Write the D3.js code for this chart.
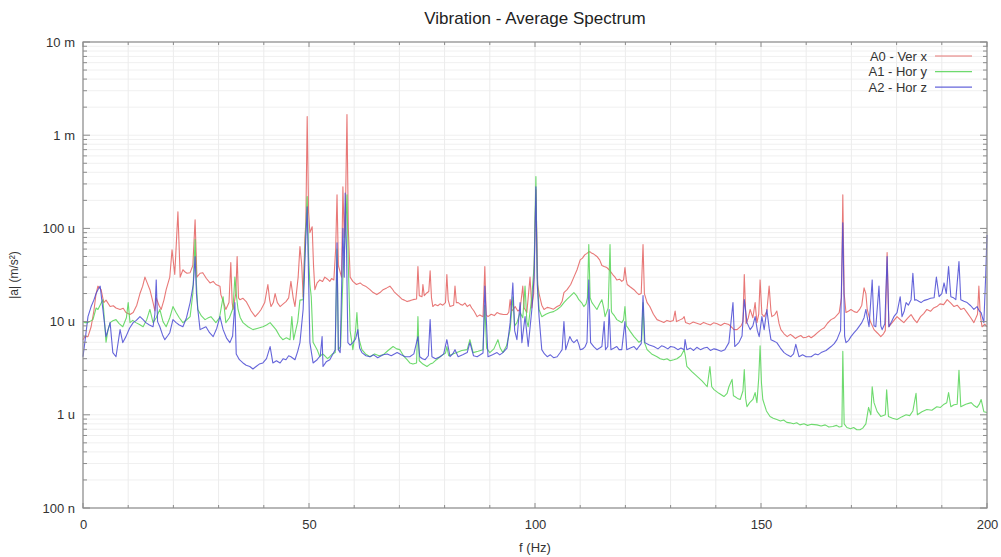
<!DOCTYPE html>
<html>
<head>
<meta charset="utf-8">
<script src="https://cdn.jsdelivr.net/npm/d3@7/dist/d3.min.js"></script>
<style>
  html, body { margin: 0; padding: 0; background: #fff; }
  svg { display: block; font-family: "Liberation Sans", Arial, sans-serif; }
</style>
</head>
<body>
<svg id="chart" width="1001" height="557"></svg>
<script>
// Spectrum magnitudes, in micro m/s^2, as [frequency Hz, |a|] pairs
const seriesNames = ["A0 - Ver x", "A1 - Hor y", "A2 - Hor z"];
const seriesColors = ["#e4605f", "#55d455", "#4a4ad4"];

const verX = [[0,6.4],[0.4,6.9],[1.1,6.9],[1.8,8.8],[2.4,13],[2.9,20],[3.3,24],[4.0,22],[4.6,16],[5.1,17],[6.0,14.5],[6.7,14.8],[7.3,14],[8.2,13.5],[8.9,13.9],[9.5,12.5],[10.4,11.9],[11.1,12.5],[11.9,15],[12.6,20],[13.2,24],[13.7,30],[14.2,26],[14.8,22],[15.5,16],[15.9,13],[16.2,18],[16.8,15],[17.3,13.5],[17.9,17],[18.4,22],[19.2,30],[19.7,59],[20.3,32],[21.0,151],[21.5,30],[22.1,36],[22.6,34],[23.0,33],[23.7,33.5],[24.3,40],[24.8,124],[25.2,30],[25.9,33],[26.5,33.5],[27.3,29],[28.1,26],[28.8,27],[29.4,25],[30.3,24],[30.5,19.5],[31.1,16],[31.6,13.5],[32.3,16],[32.7,43],[33.0,16],[33.2,13.5],[33.8,20],[34.1,50],[34.4,18],[34.7,17.2],[35.4,17.8],[36.1,16.4],[36.7,14.5],[37.2,13],[38.1,11.3],[38.8,12.3],[39.4,13.5],[40.2,16],[40.9,25],[41.3,17],[41.6,14.5],[42.1,16],[42.5,20],[43.0,16],[43.6,14.5],[44.3,15.5],[44.9,16.4],[45.5,18],[46.0,27],[46.5,18],[46.9,14.5],[47.6,30],[48.0,64],[48.4,40],[48.7,18.5],[49.1,80],[49.3,115],[49.6,1585],[49.9,150],[50.2,90],[50.7,104],[51.0,40],[51.3,22],[51.8,26],[52.4,28],[53.0,27],[53.5,30],[54.1,28.5],[54.6,27],[55.0,29],[55.5,28],[55.9,60],[56.2,230],[56.5,40],[57.2,30],[57.5,280],[57.8,80],[58.1,200],[58.4,1663],[58.7,100],[59.1,30],[59.7,27],[60.5,25],[61.3,26],[62.0,24.5],[62.5,24],[63.0,23],[63.5,22],[64.2,20.5],[65.0,19.5],[65.7,20.5],[66.4,22],[67.2,23],[67.9,24],[68.4,22.5],[68.8,21],[69.5,19.5],[70.0,18.5],[70.5,17.5],[71.1,17],[71.7,16.4],[72.4,16.8],[73.0,17.2],[73.8,17.5],[74.1,39],[74.4,19],[75.0,18.5],[75.2,25],[75.5,19],[75.9,20],[76.5,21],[76.8,35],[77.1,18],[77.4,14.5],[77.9,15.3],[78.5,14.8],[79.0,15.5],[79.6,15],[80.2,16],[80.5,32],[80.8,17],[81.2,14.5],[82.0,15],[82.3,24],[82.6,16],[83.0,16],[83.5,15.3],[84.0,15],[84.5,15.8],[85.0,14.5],[85.6,15.2],[86.0,14],[86.5,13],[87.2,11.3],[87.8,11.8],[88.5,11.3],[88.9,39],[89.2,11.8],[89.6,11.3],[90.3,12],[91.0,11.6],[91.6,12.5],[92.3,12.1],[93.0,11.9],[93.8,11.9],[94.2,12.6],[94.5,17.2],[94.8,13],[95.2,13.5],[95.6,14.5],[96.2,13],[96.7,13.5],[97.3,24],[97.6,14],[98.2,12.5],[98.9,30],[99.3,14],[99.7,20],[100.2,260],[100.6,25],[100.9,20],[101.5,15],[102.0,13.5],[102.7,14.2],[103.3,14],[104.1,13.6],[104.9,14.5],[105.5,15],[106.0,16.5],[106.4,20.5],[107.1,22],[107.9,25],[108.6,30],[109.3,36],[110.0,46],[110.5,48],[111.0,52],[111.5,54],[111.9,56],[112.2,56],[112.6,54],[113.0,53],[113.7,50],[114.3,46],[114.8,40],[115.3,39],[115.9,38],[116.4,36],[116.8,34],[117.2,32],[117.7,30],[118.1,28],[118.7,28.5],[119.2,27],[119.6,28],[119.9,38],[120.2,28],[120.4,25],[121.1,23.5],[121.9,22],[122.5,20.5],[123.0,19.5],[123.5,20],[123.9,67],[124.2,20],[124.8,16],[125.4,14.5],[126.2,12],[127.0,10.5],[127.6,10.2],[128.5,9.8],[129.2,10.3],[129.9,10],[130.6,10.3],[131.0,13],[131.3,10],[132.2,10.5],[132.7,10.8],[133.0,11.3],[133.3,9.8],[134.2,9.4],[135.0,9.9],[135.8,9.6],[136.6,9.3],[137.3,9.8],[138.0,9.5],[138.8,9.2],[139.5,9.7],[140.3,9.5],[141.1,9.1],[141.9,9.6],[142.9,9.3],[143.5,8.7],[144.0,8.2],[144.7,8.2],[145.6,9],[146.0,10],[146.3,32],[146.7,9.5],[147.2,11],[147.6,13.5],[148.2,11],[148.7,16],[149.1,9.75],[149.5,12],[149.8,28],[150.2,12],[150.7,11.3],[151.3,13],[151.8,24],[152.2,13],[152.4,11.3],[153.0,11.8],[153.5,13],[154.0,9.5],[154.4,8.2],[155.1,7.4],[155.8,6.9],[156.5,7.3],[157.0,7],[157.6,6.6],[158.0,6.8],[158.8,7.1],[159.4,6.7],[160.0,6.8],[160.6,7],[161.1,6.7],[161.8,7.1],[162.5,7.6],[163.3,8.2],[164.0,8.6],[164.7,9.6],[165.5,10.5],[166.3,11],[167.3,12.5],[167.8,18],[168.1,230],[168.4,20],[168.8,12.5],[169.4,13],[169.9,13.5],[170.6,12.8],[171.2,12.5],[171.8,13.5],[172.3,15],[172.8,23],[173.2,20],[173.5,13.5],[174.2,10],[175.0,8.2],[175.8,7.5],[176.5,6.9],[177.1,7.4],[177.5,8],[177.9,55],[178.3,8.8],[179.2,10],[180.1,11.3],[180.9,10.4],[181.6,9.75],[182.4,10.8],[183.2,11.9],[183.9,10.5],[184.5,9.75],[185.3,11.3],[186.0,12.2],[186.7,13.5],[187.5,12.9],[188.2,14],[188.9,14.5],[189.6,15.5],[190.4,15.2],[191.2,17.2],[192.0,15.8],[192.7,14.5],[193.4,15],[194.2,13.5],[194.9,13.9],[195.6,12.5],[196.4,11],[197.1,9.75],[197.9,12],[198.2,24],[198.5,12],[198.9,8.8],[199.5,9.4],[200,8.8]];

const horY = [[0,10],[0.4,9.75],[1.1,9.75],[2.2,10.5],[2.9,14],[3.3,13.5],[4.4,17.2],[5.1,6],[5.5,8],[6.0,9.75],[6.6,10.2],[7.3,10.5],[8.0,9.5],[8.8,8.8],[9.6,11],[10.0,16],[10.4,9.75],[11.0,10.3],[11.7,9.75],[12.5,9.3],[13.3,8.8],[14.1,10.5],[14.8,13.5],[15.5,9.75],[16.2,11],[17.0,13.5],[17.7,10],[18.4,8.8],[19.2,11],[19.9,14.5],[20.6,12.5],[21.3,11],[22.1,9.75],[22.9,10.4],[23.7,11.3],[24.3,20],[24.8,76],[25.1,25],[25.4,13.5],[26.2,11.5],[27.0,10.5],[27.6,10.9],[28.3,11.3],[29.4,9.75],[30.2,11],[31.0,18.5],[31.6,9.75],[32.4,11],[33.2,14],[33.6,30],[34.0,18],[34.3,13.5],[34.8,11],[35.4,9.75],[36.5,8.8],[37.6,8.2],[38.7,8.5],[39.8,8.8],[40.6,9.2],[41.4,9.75],[42.0,9],[42.7,8.2],[43.5,7],[44.2,6.4],[45.0,6.7],[45.8,6.4],[46.2,11.3],[46.6,6.4],[47.5,10],[48.0,17],[48.7,17.2],[49.1,60],[49.6,220],[49.9,50],[50.2,25],[50.5,18.5],[50.9,6],[51.8,5],[52.4,4.2],[53.0,4.5],[53.5,4.3],[54.1,4.0],[54.6,4.2],[55.2,4.5],[55.8,4.65],[56.2,60],[56.5,5],[57.0,5.4],[57.5,30],[58.0,80],[58.4,230],[58.7,40],[59.1,8],[59.7,5],[60.3,8],[60.6,12.5],[60.9,7],[61.7,5],[62.5,4.5],[63.5,4.2],[64.5,4.5],[65.5,4.3],[66.4,4.4],[67.5,4.9],[68.6,5.4],[69.4,5.1],[70.1,5],[70.9,4.3],[71.7,3.9],[72.3,3.6],[73.0,3.5],[73.8,3.6],[74.1,11.3],[74.4,3.8],[75.2,3.5],[76.1,3.3],[76.8,3.5],[77.4,3.6],[78.2,3.9],[79.0,4.2],[79.6,4.4],[80.2,4.6],[80.5,5.4],[80.9,4.3],[81.8,4.5],[82.7,4.65],[83.8,4.9],[85.0,5],[85.6,6.4],[86.3,4.65],[87.4,4.8],[88.5,5],[88.9,15],[89.3,5.2],[90.0,4.65],[90.9,5.1],[91.8,6.4],[92.3,5.2],[92.9,4.65],[93.7,5.5],[94.5,8.2],[95.1,18.5],[95.5,9],[96.0,9.75],[96.7,12.5],[97.3,11],[97.8,24],[98.2,10],[98.5,8.8],[99.3,18.5],[99.8,40],[100.2,360],[100.5,30],[100.9,13.5],[101.5,11.3],[102.4,12],[103.3,12.5],[104.1,12.8],[104.9,13.5],[105.7,14.5],[106.4,16],[107.0,17.2],[107.7,18.5],[108.6,20.5],[109.2,19],[109.7,17.2],[110.3,16],[110.8,14.5],[111.3,15.5],[111.6,18],[111.9,67],[112.2,18],[112.6,16],[113.1,14.8],[113.7,13.5],[114.3,15.5],[114.8,17.2],[115.2,14],[115.5,11.3],[116.2,14],[116.6,67],[116.9,13],[117.0,12.5],[117.6,11.5],[118.1,10.5],[118.7,10.1],[119.2,9.75],[119.6,10.5],[119.9,14.5],[120.2,9],[120.4,8.8],[121.1,7.8],[121.9,6.9],[122.5,6.4],[123.0,6],[123.6,6.3],[123.9,16],[124.2,6],[124.8,5],[125.8,4.5],[127.0,4.2],[127.7,4.0],[128.5,3.9],[129.2,4.0],[129.9,3.8],[130.7,3.9],[131.4,4],[132.3,4.3],[133.0,5],[133.3,4.2],[133.6,3.3],[134.7,2.9],[135.8,2.6],[137.0,2.3],[138.1,2.0],[138.7,3.3],[139.1,2.0],[139.6,1.86],[140.7,1.7],[141.8,1.57],[142.5,1.7],[142.9,2.0],[143.6,2.4],[143.9,1.6],[144.2,1.57],[144.8,1.5],[145.4,1.46],[146.0,1.8],[146.3,3.05],[146.6,1.5],[146.9,1.22],[147.5,1.35],[148.2,1.46],[148.7,1.73],[149.1,1.35],[149.5,2.5],[149.8,5.5],[150.1,2.2],[150.4,1.46],[151.2,1.1],[152.0,0.96],[152.7,0.92],[153.5,0.89],[154.3,0.86],[155.0,0.88],[155.7,0.83],[156.4,0.82],[157.2,0.8],[157.9,0.82],[158.6,0.78],[159.5,0.8],[160.3,0.77],[161.2,0.79],[162.4,0.78],[163.3,0.76],[164.2,0.78],[165.0,0.74],[165.9,0.75],[166.7,0.77],[167.3,0.74],[167.9,0.75],[168.1,4.8],[168.4,0.8],[169.0,0.73],[169.8,0.71],[170.5,0.73],[171.2,0.69],[171.9,0.69],[172.5,0.72],[173.2,0.8],[173.8,1.2],[174.3,1.0],[174.6,2.0],[175.0,1.35],[175.7,1.08],[176.5,0.96],[177.5,1.0],[177.8,1.86],[178.2,0.96],[179.1,0.92],[180.1,0.89],[181.1,0.95],[182.1,1.0],[182.9,0.98],[183.6,1.1],[184.3,1.7],[184.6,1.0],[185.6,1.08],[186.7,1.14],[187.8,1.12],[188.9,1.22],[189.7,1.2],[190.5,1.3],[191.1,1.35],[191.5,1.73],[192.0,1.22],[192.7,1.28],[193.4,1.3],[193.8,3.0],[194.2,1.22],[195.3,1.3],[196.5,1.35],[197.2,1.25],[197.8,1.2],[198.3,1.3],[198.7,1.46],[199.3,1.08],[200,1.06]];

const horZ = [[0,4.2],[0.4,5.95],[1.1,11.3],[1.8,14.5],[2.4,17],[2.9,20],[3.3,22],[3.8,24],[4.4,13.5],[5.1,6.9],[6.0,9.75],[6.6,4.65],[7.3,4.2],[8.2,8.2],[8.8,5.95],[9.5,6.9],[10.3,8.5],[11.1,9.75],[11.8,10.3],[12.6,11.3],[13.3,10.5],[13.9,9.75],[14.7,9.2],[15.5,8.8],[15.9,12],[16.2,28],[16.5,10],[17.0,8.8],[17.6,7.2],[18.1,6.4],[18.7,7],[19.2,7.6],[19.9,10.5],[20.6,9.75],[21.3,9.2],[22.1,8.8],[22.9,11],[23.7,16],[24.4,25],[24.8,50],[25.1,20],[25.4,13.5],[25.9,8.2],[26.5,8.5],[27.2,8.8],[28.0,7.6],[28.8,6.9],[29.6,8.5],[30.3,11.3],[31.0,8.2],[31.8,6.6],[32.5,5.95],[33.1,7],[33.6,16],[33.9,4.5],[34.6,3.9],[35.4,3.6],[36.1,3.4],[36.9,3.3],[37.6,3.1],[38.3,3.3],[39.0,3.5],[39.8,3.6],[40.6,4.0],[41.4,5.4],[42.0,3.6],[42.8,3.8],[43.6,3.6],[44.3,4.0],[44.9,3.9],[45.5,4.3],[46.0,4.2],[46.9,3.9],[47.5,4.8],[48.0,5.95],[48.7,13.5],[49.2,60],[49.6,170],[49.9,30],[50.2,5.95],[50.9,3.6],[51.8,3.9],[52.5,4.3],[52.9,6.9],[53.1,3.3],[53.8,3.7],[54.6,3.9],[55.2,4.4],[55.8,5],[56.2,70],[56.5,5],[56.9,4.65],[57.5,100],[57.8,30],[58.0,240],[58.3,60],[58.6,5.95],[59.1,5.6],[59.7,5.95],[60.3,6.5],[60.8,8.2],[61.2,5.2],[61.7,4.65],[62.6,4.3],[63.5,4.2],[64.3,4.4],[65.2,4.1],[66.4,4.4],[67.3,4.5],[68.2,4.3],[69.5,4.65],[70.4,4.4],[71.3,4.2],[72.3,4.2],[73.2,4.5],[74.1,6.9],[74.5,4.2],[75.1,4.0],[75.7,3.9],[76.4,4.3],[76.8,10.5],[77.2,4.2],[78.0,4.0],[79.0,4.2],[79.8,4.5],[80.5,6.4],[81.2,4.2],[81.8,4.5],[82.3,5],[83.0,4.2],[84.0,4.4],[85.0,4.65],[85.6,5.95],[86.4,4.3],[87.2,4.2],[87.9,4.4],[88.5,4.6],[88.9,24],[89.6,4.2],[90.6,4.4],[91.6,4.65],[92.2,4.4],[92.9,4.65],[93.8,5.2],[94.5,9.75],[95.1,26],[95.5,8],[96.0,6.4],[96.7,16],[97.1,5.95],[97.8,11.3],[98.5,5.4],[99.3,13.5],[99.8,30],[100.2,280],[100.5,25],[100.9,11.3],[101.5,5],[102.1,4.5],[102.7,4.2],[103.4,4.4],[104.1,4.1],[104.9,4.2],[105.5,4.6],[106.0,5],[106.4,10],[106.8,5],[107.7,6.9],[108.2,6.2],[108.6,5.95],[109.3,6.4],[109.7,5.7],[110.0,5],[110.6,5.1],[111.1,5.4],[111.5,6],[111.9,28],[112.3,5.95],[113.0,5.4],[113.7,5],[114.3,5.2],[114.8,5.4],[115.3,10],[115.6,5],[116.1,5.4],[116.4,13.5],[116.8,5],[117.5,5.2],[118.1,5.4],[118.6,5.0],[119.2,5],[119.9,10],[120.3,5],[121.1,5.2],[121.9,5.4],[122.5,5.0],[123.0,5.4],[123.5,5.8],[123.9,19],[124.3,5.95],[125.3,5.6],[126.3,5.4],[127.2,5.1],[128.0,5.5],[128.5,5.4],[129.4,5.1],[130.0,5.4],[130.8,5.3],[131.6,5.0],[132.3,5.2],[133.0,5],[133.2,6.4],[133.6,5],[134.4,5.2],[135.1,4.9],[135.8,5.3],[136.6,5.0],[137.4,5.2],[138.1,5.3],[138.8,4.9],[139.6,5.1],[140.3,5],[141.2,4.8],[142.0,5],[142.9,5.95],[143.8,16],[144.2,5.4],[145.1,5.95],[145.8,7],[146.3,17.2],[146.9,9.75],[147.6,8.2],[148.2,9],[148.7,11.3],[149.2,8],[149.6,6.9],[150.2,11.3],[150.7,8.2],[151.3,13.5],[151.8,8.5],[152.2,6.4],[152.8,6.2],[153.5,5.95],[154.3,5.2],[155.1,4.65],[155.8,4.4],[156.6,4.2],[157.2,4.5],[157.7,5.7],[158.4,4.2],[159.2,4.4],[160.0,4.2],[161.1,4.2],[162.0,4.5],[162.6,4.4],[163.3,4.65],[164.4,4.9],[165.5,5.4],[166.2,5.8],[166.8,6.4],[167.6,8],[168.1,115],[168.5,7],[168.8,5.95],[169.4,6.3],[169.9,6.9],[170.6,7.6],[171.2,8.2],[171.8,9],[172.3,9.75],[172.8,11],[173.2,13.5],[173.9,8.8],[174.6,28],[175.0,9],[175.4,8.8],[176.1,24],[176.5,9],[176.8,8.2],[177.4,9.5],[177.9,50],[178.3,8.8],[178.9,10],[179.4,11.3],[180.1,12.5],[180.8,18.5],[181.2,11.3],[181.7,13],[182.1,16],[182.6,15],[183.2,17.2],[183.6,33],[184.0,17],[184.3,17.2],[184.9,16.5],[185.4,16],[186.0,16.8],[186.7,17.2],[187.5,17.8],[188.3,18],[188.8,30],[189.4,18.5],[190.0,20],[190.5,26],[191.0,20],[191.5,39],[192.0,18.5],[192.6,18],[193.1,17.2],[193.8,44],[194.2,17.2],[194.9,16.5],[195.6,16],[196.4,14.8],[197.1,13.5],[197.8,14.5],[198.3,13],[198.7,12.5],[199.3,9.75],[199.7,30],[200,85]];

const xTickLabels = [0, 50, 100, 150, 200];
const yTickValues = [0.1, 1, 10, 100, 1000, 10000];
const yTickLabels = ["100 n", "1 u", "10 u", "100 u", "1 m", "10 m"];

const svg = d3.select("#chart");
const margin = { left: 83, right: 14, top: 42, bottom: 49 };
const W = 1001, H = 557;
const iw = W - margin.left - margin.right;
const ih = H - margin.top - margin.bottom;

const x = d3.scaleLinear().domain([0, 200]).range([0, iw]);
const y = d3.scaleLog().domain([0.1, 10000]).range([ih, 0]);

const g = svg.append("g").attr("transform", `translate(${margin.left},${margin.top})`);

// minor log ticks (1..9 per decade)
const minorY = [];
for (let e = -1; e < 4; e++) {
  for (let k = 1; k <= 9; k++) minorY.push(k * Math.pow(10, e));
}
minorY.push(10000);
const xMinor = d3.range(0, 201, 10);

// grid
g.append("g").selectAll("line").data(minorY).join("line")
  .attr("x1", 0).attr("x2", iw)
  .attr("y1", d => y(d)).attr("y2", d => y(d))
  .attr("stroke", "#f0f0f0").attr("stroke-width", 1);
g.append("g").selectAll("line").data(xMinor).join("line")
  .attr("y1", 0).attr("y2", ih)
  .attr("x1", d => x(d)).attr("x2", d => x(d))
  .attr("stroke", "#ececec").attr("stroke-width", 1);

// series
const line = d3.line().x(d => x(d[0])).y(d => y(d[1]));
const data = [verX, horY, horZ];
data.forEach((s, i) => {
  g.append("path").datum(s)
    .attr("d", line)
    .attr("fill", "none")
    .attr("stroke", seriesColors[i])
    .attr("stroke-width", 1.1)
    .attr("stroke-opacity", 0.85)
    .attr("stroke-linejoin", "round");
});

// frame
g.append("rect").attr("x", 0).attr("y", 0).attr("width", iw).attr("height", ih)
  .attr("fill", "none").attr("stroke", "#8c8c8c").attr("stroke-width", 1.2);

// axes
const tickColor = "#8c8c8c";
const leftAxis = d3.axisLeft(y).tickValues(yTickValues)
  .tickFormat((d, i) => yTickLabels[i]).tickSize(0).tickPadding(8);
const la = g.append("g").call(leftAxis);
la.select(".domain").remove();
la.selectAll("text").attr("font-size", 13).attr("fill", "#333");

const bottomAxis = d3.axisBottom(x).tickValues(xTickLabels).tickFormat(d3.format("d")).tickSize(0).tickPadding(12);
const ba = g.append("g").attr("transform", `translate(0,${ih})`).call(bottomAxis);
ba.select(".domain").remove();
ba.selectAll("text").attr("font-size", 13).attr("fill", "#333");

// inward tick marks on all four sides
const isMajorY = d => yTickValues.some(v => Math.abs(Math.log10(v) - Math.log10(d)) < 1e-9);
[0, iw].forEach(x0 => {
  const dir = x0 === 0 ? 1 : -1;
  g.append("g").selectAll("line").data(minorY).join("line")
    .attr("x1", x0).attr("x2", d => x0 + dir * (isMajorY(d) ? 7 : 4))
    .attr("y1", d => y(d)).attr("y2", d => y(d))
    .attr("stroke", tickColor).attr("stroke-width", 1);
});
[0, ih].forEach(y0 => {
  const dir = y0 === 0 ? 1 : -1;
  g.append("g").selectAll("line").data(xMinor).join("line")
    .attr("y1", y0).attr("y2", d => y0 + dir * (d % 50 === 0 ? 5 : 3))
    .attr("x1", d => x(d)).attr("x2", d => x(d))
    .attr("stroke", tickColor).attr("stroke-width", 1);
});

// titles
svg.append("text").attr("x", margin.left + iw / 2).attr("y", 24)
  .attr("text-anchor", "middle").attr("font-size", 17).attr("fill", "#222")
  .text("Vibration - Average Spectrum");
svg.append("text").attr("x", margin.left + iw / 2).attr("y", 552)
  .attr("text-anchor", "middle").attr("font-size", 13).attr("fill", "#333")
  .text("f (Hz)");
svg.append("text")
  .attr("transform", `translate(18,${margin.top + ih / 2}) rotate(-90)`)
  .attr("text-anchor", "middle").attr("font-size", 12).attr("fill", "#333")
  .text("|a| (m/s²)");

// legend
const lg = svg.append("g");
seriesNames.forEach((n, i) => {
  const yy = 56 + i * 15.6;
  lg.append("text").attr("x", 927).attr("y", yy).attr("dy", "0.35em")
    .attr("text-anchor", "end").attr("font-size", 13).attr("fill", "#333").text(n);
  lg.append("line").attr("x1", 935).attr("x2", 972).attr("y1", yy).attr("y2", yy)
    .attr("stroke", seriesColors[i]).attr("stroke-width", 1.2).attr("stroke-opacity", 0.85);
});
</script>
</body>
</html>
